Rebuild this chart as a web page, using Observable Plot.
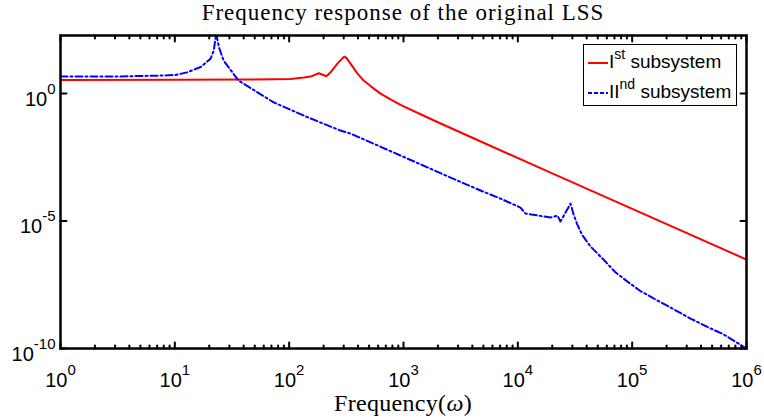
<!DOCTYPE html>
<html><head><meta charset="utf-8">
<script src="https://cdn.jsdelivr.net/npm/d3@7"></script>
<script src="https://cdn.jsdelivr.net/npm/@observablehq/plot@0.6"></script>
<style>
body{margin:0;background:#fff;}
#wrap{position:relative;width:764px;height:420px;overflow:hidden;background:#fff;}
.title{position:absolute;left:0;width:806px;text-align:center;font-family:"Liberation Serif","Times New Roman",serif;color:#000;white-space:nowrap;}
#legend{position:absolute;left:583px;top:44px;width:152px;height:60px;border:1.5px solid #000;background:#fff;font-family:"Liberation Sans",Arial,sans-serif;font-size:19px;color:#000;}
#legend .row{position:absolute;left:3px;white-space:nowrap;}
#legend svg{vertical-align:middle;}
#legend sup{font-size:14px;position:relative;top:-2px;}
</style></head><body>
<div id="wrap">
  <div class="title" id="title" style="top:0px;font-size:23px;letter-spacing:1px;">Frequency response of the original LSS</div>
  <div class="title" id="xlabel" style="top:390px;font-size:24px;letter-spacing:0.3px;">Frequency(<i>ω</i>)</div>
</div>
<script>
// ---- data ----
const seriesNames = ["I", "II"];
const seriesSup = ["st", "nd"];
const freq1 = [1, 10, 45.9, 102.8, 134, 153.8, 181.6, 212.3, 230, 263, 293, 304.8, 318, 344, 396, 448, 515, 630, 770, 942, 1409, 1828, 5012, 19320, 1e6];
const mag1  = [3.44, 3.46, 3.54, 3.77, 4.24, 4.65, 6.25, 4.77, 6.84, 14.6, 24.7, 28.2, 24.7, 15.0, 6.09, 3.24, 1.97, 1.0, 0.59, 0.363, 0.155, 0.0902, 0.01175, 7.98e-4, 3.09e-7];
const freq2 = [1, 3.16, 7.5, 10.2, 12.8, 16.8, 20.5, 21.9, 23.0, 24.3, 26.7, 36.1, 73, 145, 281, 344, 942, 2580, 4720, 7050, 10540, 11670, 19320, 22230, 23600, 28900, 30700, 33000, 36600, 43250, 56100, 71000, 91000, 118000, 166700, 230000, 323600, 455000, 629500, 1e6];
const mag2  = [4.65, 4.7, 5.08, 5.4, 6.8, 11, 23, 49, 224, 66, 19.7, 3.24, 0.456, 0.118, 0.0354, 0.027, 3.71e-3, 5.08e-4, 1.58e-4, 7.62e-5, 3.38e-5, 1.97e-5, 1.37e-5, 1.64e-5, 9.55e-6, 4.85e-5, 1.85e-5, 7.6e-6, 2.8e-6, 1.0e-6, 3.09e-7, 1.0e-7, 4.2e-8, 1.8e-8, 7.62e-9, 3.5e-9, 1.50e-9, 7.0e-10, 3.6e-10, 1e-10];
const xMajorExp = [0, 1, 2, 3, 4, 5, 6];
const yMajorExp = [0, -5, -10];
const colors = ["#ff0000", "#0000ff"];
const dash = "7,3,2,3";

const d1 = freq1.map((f, i) => ({f, m: mag1[i]}));
const d2 = freq2.map((f, i) => ({f, m: mag2[i]}));
const xMajor = xMajorExp.map(e => 10 ** e);
const yMajor = yMajorExp.map(e => 10 ** e);
const xMinor = [];
for (let e = 0; e < 6; e++) for (let k = 2; k <= 9; k++) xMinor.push(k * 10 ** e);
const fmt = d => "10^" + Math.round(Math.log10(d));
const tickShape = {draw(ctx, l) { ctx.moveTo(0, 0); ctx.lineTo(0, -l); }};
const tk = (data, chan, anchor, rotate, length) =>
  Plot.vector(data, {[chan]: d => d, frameAnchor: anchor, rotate, length, anchor: "start", shape: tickShape, stroke: "#000", strokeWidth: 2});

const chart = Plot.plot({
  width: 764, height: 420,
  marginLeft: 60, marginRight: 18, marginTop: 35, marginBottom: 72,
  x: {type: "log", domain: [1, 1e6]},
  y: {type: "log", domain: [1e-10, 190]},
  style: {fontFamily: '"Liberation Sans", Arial, sans-serif', fontSize: "20px", background: "transparent", color: "#000"},
  marks: [
    Plot.line(d1, {x: "f", y: "m", stroke: colors[0], strokeWidth: 2, clip: true}),
    Plot.line(d2, {x: "f", y: "m", stroke: colors[1], strokeWidth: 2, strokeDasharray: dash, clip: true}),
    tk(xMinor, "x", "bottom", 0, 3),
    tk(xMinor, "x", "top", 180, 3),
    tk(xMajor, "x", "bottom", 0, 6),
    tk(xMajor, "x", "top", 180, 6),
    tk(yMajor, "y", "left", 90, 6),
    tk(yMajor, "y", "right", -90, 6),
    Plot.axisX({anchor: "bottom", ticks: xMajor, tickSize: 0, tickPadding: 24, tickFormat: fmt, label: null, fontSize: 20}),
    Plot.axisY({anchor: "left", ticks: yMajor, tickSize: 0, tickPadding: 5, tickFormat: fmt, label: null, fontSize: 20}),
    Plot.frame({stroke: "#000", strokeWidth: 2.5})
  ]
});
chart.style.position = "absolute";
chart.style.left = "0px";
chart.style.top = "0px";

// superscript exponents in tick labels
const NS = "http://www.w3.org/2000/svg";
chart.querySelectorAll("text").forEach(t => {
  const m = /^10\^(-?\d+)$/.exec(t.textContent);
  if (!m) return;
  const isY = t.closest('g[aria-label^="y-axis"]') !== null;
  t.textContent = "";
  const a = document.createElementNS(NS, "tspan");
  a.textContent = "10";
  if (isY) a.setAttribute("dy", "6");
  const b = document.createElementNS(NS, "tspan");
  b.textContent = m[1];
  b.setAttribute("dy", "-12");
  b.setAttribute("font-size", "15");
  t.appendChild(a); t.appendChild(b);
});

const wrap = document.getElementById("wrap");
wrap.insertBefore(chart, wrap.firstChild);

// legend
const leg = document.createElement("div");
leg.id = "legend";
seriesNames.forEach((name, i) => {
  const row = document.createElement("div");
  row.className = "row";
  row.style.top = (i === 0 ? 3 : 33) + "px";
  row.innerHTML = `<svg width="22" height="10"><line x1="1" x2="21" y1="5" y2="5" stroke="${colors[i]}" stroke-width="2" ${i === 1 ? 'stroke-dasharray="4,2"' : ''}/></svg>${name}<sup>${seriesSup[i]}</sup> subsystem`;
  leg.appendChild(row);
});
wrap.appendChild(leg);
</script>
</body></html>
